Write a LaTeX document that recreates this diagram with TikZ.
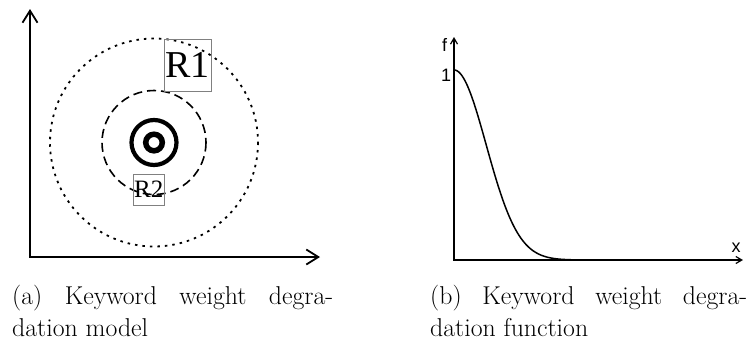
\documentclass[tikz,border=0pt]{standalone}
\usepackage{fontspec}
\newfontfamily\sansf{Liberation Sans}
\newfontfamily\timesf{Liberation Serif}
\usetikzlibrary{arrows.meta}
\begin{document}
\begin{tikzpicture}[x=1pt,y=-1pt,
  axisL/.style={line width=1.8pt},
  axisR/.style={line width=1.2pt},
  dotcirc/.style={line width=1.8pt, dash pattern=on 2.5pt off 5pt},
  dashcirc/.style={line width=1.6pt, dash pattern=on 9pt off 5pt},
  rbox/.style={draw=gray, line width=0.9pt, inner sep=0pt},
  lab/.style={font=\sansf\fontsize{18}{18}\selectfont, inner sep=0pt},
  captext/.style={font=\fontsize{25.8}{31}\selectfont, inner sep=0pt, anchor=base west},
  curve/.style={line width=1.5pt}
]
\useasboundingbox (0,0) rectangle (755,341);
% ---- left panel
\coordinate (o1) at (30,257);
\coordinate (y1) at (30,9);
\coordinate (x1) at (320,257);
\draw[axisL,{Straight Barb[length=12pt,width=15pt]}-{Straight Barb[length=12pt,width=15pt]}] (y1) -- (o1) -- (x1);
\coordinate (c) at (154,142.5);
\draw[dotcirc] (c) circle[radius=104];
\draw[dashcirc] (c) circle[radius=52];
\draw[line width=4.2pt] (c) circle[radius=22.5];
\draw[line width=5.5pt] (c) circle[radius=8.3];
\node[rbox, minimum width=47pt, minimum height=52pt, font=\timesf\fontsize{38}{38}\selectfont] (r1) at (187.7,65) {R1};
\node[rbox, minimum width=31pt, minimum height=31pt, font=\timesf\fontsize{25}{25}\selectfont] (r2) at (148.8,189.5) {R2};
% ---- right panel
\coordinate (o2) at (454,260);
\coordinate (y2) at (454,37);
\coordinate (x2) at (743,260);
\coordinate (tail) at (719,260);
\draw[axisR,{Straight Barb[length=6pt,width=7pt]}-{Straight Barb[length=6pt,width=7pt]}] (y2) -- (o2) -- (x2);
\draw[curve] plot[domain=0:140,samples=160] ({454+\x},{260-190*exp(-(\x/45.5)^2)}) -- (tail);
\node[lab] (f) at (444.5,45) {f};
\node[lab] (one) at (446,75) {1};
\node[lab] (xl) at (736,248) {x};
% ---- captions
\node[captext] (ca1) at (12,304) {\makebox[321pt][s]{(a) Keyword weight degra-}};
\node[captext] (ca2) at (12,336) {dation model};
\node[captext] (cb1) at (430,304) {\makebox[317pt][s]{(b) Keyword weight degra-}};
\node[captext] (cb2) at (430,336) {dation function};
\end{tikzpicture}
\end{document}
